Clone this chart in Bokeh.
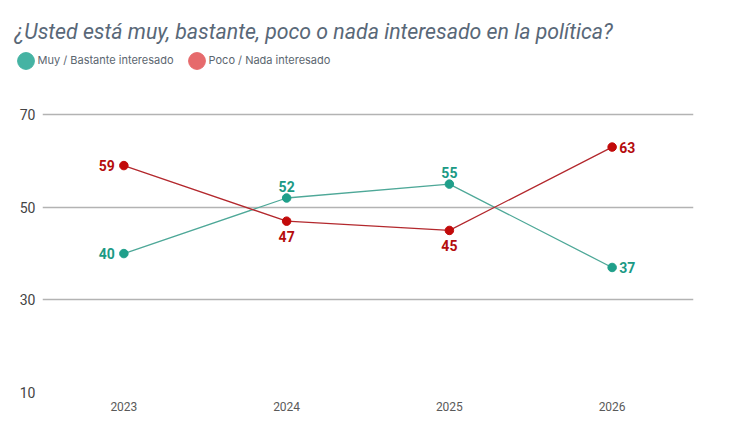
from bokeh.plotting import figure
from bokeh.models import Range1d, FixedTicker, Legend, LegendItem, ColumnDataSource, Label
from bokeh.layouts import column
from bokeh.embed import file_html
from bokeh.resources import INLINE
from bokeh.core.properties import value

title_text = "¿Usted está muy, bastante, poco o nada interesado en la política?"
years = [2023, 2024, 2025, 2026]
muy_bastante = [40, 52, 55, 37]
poco_nada = [59, 47, 45, 63]
series_names = ["Muy / Bastante interesado", "Poco / Nada interesado"]
y_ticks = [10, 30, 50, 70]

# label placement per point (style)
muy_place = ["left", "above", "above", "right"]
poco_place = ["left", "below", "below", "right"]

GREEN_LINE = "#4ea898"
GREEN_MARK = "#1f9f8a"
GREEN_TEXT = "#1b9a85"
GREEN_LEG = "#45b3a3"
RED_LINE = "#b3282d"
RED_MARK = "#c20a0a"
RED_TEXT = "#b50d0d"
RED_LEG = "#e66a6c"

W = 730
HEAD_H = 91
MAIN_H = 330

# ---------- header: title + legend ----------
head = figure(width=W, height=HEAD_H, output_backend="svg", toolbar_location=None,
              title=None, x_axis_type=None, y_axis_type=None,
              x_range=Range1d(0, 1), y_range=Range1d(0, 1),
              min_border_left=0, min_border_right=0, min_border_top=0, min_border_bottom=0)
head.frame_align = False
head.outline_line_color = None
head.xgrid.grid_line_color = None
head.ygrid.grid_line_color = None
head.background_fill_color = "white"
head.border_fill_color = "white"

head.add_layout(Label(x=14, y=HEAD_H - 31, x_units="screen", y_units="screen",
                      text=title_text, text_font="Roboto", text_font_size="21.3px",
                      text_font_style="italic", text_color="#596878",
                      text_baseline="middle", text_align="left"))

# legend swatches: screen-sized ellipses with no position (only shown in the legend)
nan = float("nan")
r1 = head.ellipse(x=[nan], y=[nan], width=10, height=10, width_units="screen",
                  height_units="screen", fill_color=GREEN_LEG, line_color=GREEN_LEG)
r2 = head.ellipse(x=[nan], y=[nan], width=10, height=10, width_units="screen",
                  height_units="screen", fill_color=RED_LEG, line_color=RED_LEG)
legend = Legend(items=[LegendItem(label=series_names[0], renderers=[r1]),
                       LegendItem(label=series_names[1], renderers=[r2])],
                orientation="horizontal", location=(14.5, HEAD_H - 70.5),
                glyph_width=21, glyph_height=21, label_standoff=2, spacing=12,
                padding=0, margin=0, background_fill_alpha=0, border_line_color=None,
                label_text_font="Inter", label_text_font_size="11px",
                label_text_color="#5b6670")
head.add_layout(legend, "center")

# ---------- main chart ----------
p = figure(width=W, height=MAIN_H, output_backend="svg", toolbar_location=None, title=None,
           x_range=Range1d(2022.5, 2026.5), y_range=Range1d(10, 75),
           min_border_left=42, min_border_right=37, min_border_top=0, min_border_bottom=29)
p.frame_align = False
p.outline_line_color = None
p.background_fill_color = "white"
p.border_fill_color = "white"

p.xgrid.grid_line_color = None
p.ygrid.ticker = FixedTicker(ticks=y_ticks)
p.ygrid.grid_line_color = "#b3b3b3"
p.ygrid.grid_line_width = 1.5

p.yaxis.ticker = FixedTicker(ticks=y_ticks)
p.yaxis.axis_line_color = None
p.yaxis.major_tick_line_color = None
p.yaxis.minor_tick_line_color = None
p.yaxis.major_tick_out = 0
p.yaxis.major_label_standoff = 7
p.yaxis.major_label_text_font = "Roboto"
p.yaxis.major_label_text_font_size = "14px"
p.yaxis.major_label_text_color = "#444444"

p.xaxis.ticker = FixedTicker(ticks=years)
p.xaxis.axis_line_color = None
p.xaxis.major_tick_line_color = None
p.xaxis.minor_tick_line_color = None
p.xaxis.major_tick_out = 0
p.xaxis.major_label_standoff = 9
p.xaxis.major_label_text_font = "Roboto"
p.xaxis.major_label_text_font_size = "12px"
p.xaxis.major_label_text_color = "#5a5a5a"


def placements(places):
    align, base, xo, yo = [], [], [], []
    for pl in places:
        if pl == "left":
            align.append("right"); base.append("middle"); xo.append(-9); yo.append(0)
        elif pl == "right":
            align.append("left"); base.append("middle"); xo.append(7); yo.append(0)
        elif pl == "above":
            align.append("center"); base.append("bottom"); xo.append(0); yo.append(-6)
        else:
            align.append("center"); base.append("top"); xo.append(0); yo.append(10)
    return align, base, xo, yo


for vals, places, lc, mc, tc in [(muy_bastante, muy_place, GREEN_LINE, GREEN_MARK, GREEN_TEXT),
                                  (poco_nada, poco_place, RED_LINE, RED_MARK, RED_TEXT)]:
    al, bl, xo, yo = placements(places)
    src = ColumnDataSource(dict(x=years, y=vals, t=[str(v) for v in vals],
                                al=al, bl=bl, xo=xo, yo=yo))
    p.line("x", "y", source=src, line_color=lc, line_width=1.3)
    p.scatter("x", "y", source=src, size=8.5, fill_color=mc, line_color=mc)
    p.text("x", "y", text="t", source=src, text_align="al", text_baseline="bl",
           x_offset="xo", y_offset="yo", text_color=tc, text_font=value("Roboto"),
           text_font_size="14px", text_font_style="bold")

layout = column(head, p, spacing=0)
open("out.html", "w").write(file_html(layout, INLINE))
